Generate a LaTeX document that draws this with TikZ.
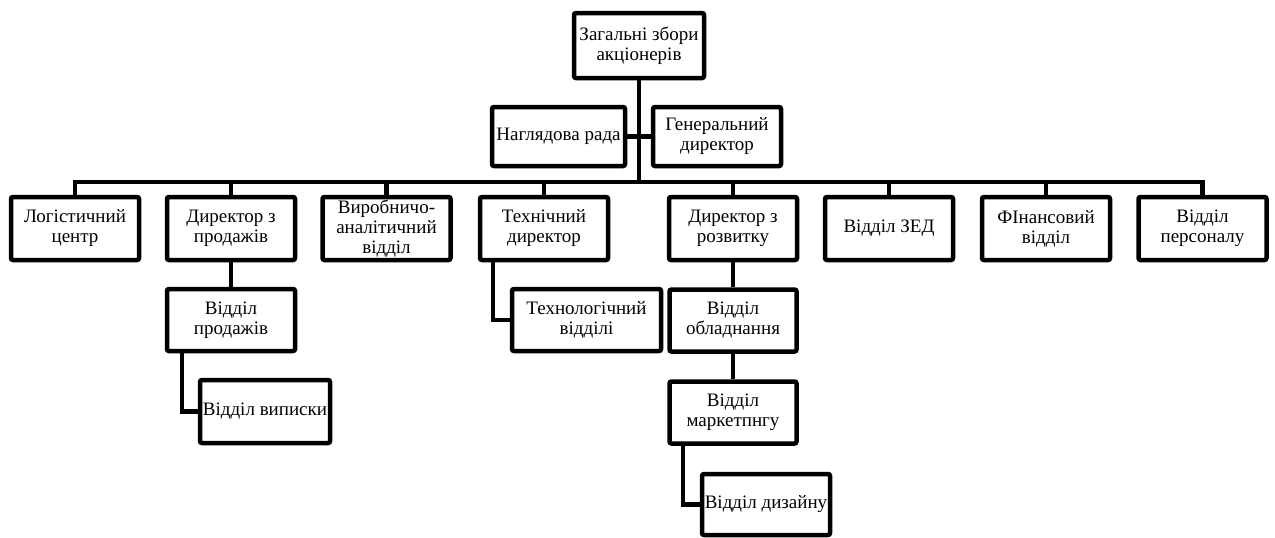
\documentclass[tikz,border=0pt]{standalone}
\usepackage{fontspec}
\setmainfont{Liberation Serif}
\begin{document}
\begin{tikzpicture}[x=1pt,y=-1pt,
  box/.style={draw, line width=4.5pt, rounded corners=2pt, minimum width=128pt, minimum height=63pt, inner sep=0pt, align=center, font=\fontsize{19}{20}\selectfont},
  link/.style={line width=4.5pt}]
\useasboundingbox (0,0) rectangle (1275,538);
\node[box, minimum width=130pt, minimum height=65pt] (top) at (639,45.5) {Загальні збори\\акціонерів};
\node[box, minimum width=133pt, minimum height=59pt] (nagl) at (558.5,136.5) {Наглядова рада};
\node[box, minimum width=128pt, minimum height=59pt] (gen) at (717,136.5) {Генеральний\\директор};
\coordinate (bus) at (639,182);
% level 2
\node[box] (log) at (75,228.5) {Логістичний\\центр};
\node[box] (dprod) at (231,228.5) {Директор з\\продажів};
\node[box] (vyr) at (386.5,228.5) {Виробничо-\\аналітичний\\відділ};
\node[box] (tech) at (544,228.5) {Технічний\\директор};
\node[box] (drozv) at (733,228.5) {Директор з\\розвитку};
\node[box] (zed) at (889,228.5) {Відділ ЗЕД};
\node[box] (fin) at (1046,228.5) {ФІнансовий\\відділ};
\node[box] (pers) at (1202.5,228.5) {Відділ\\персоналу};
% level 3
\node[box, minimum height=62pt] (vprod) at (231,320) {Відділ\\продажів};
\node[box, minimum width=130pt] (vvyp) at (265,411.5) {Відділ виписки};
\node[box, minimum width=149pt, minimum height=62pt] (techv) at (586.5,320) {Технологічний\\відділі};
\node[box, minimum width=127pt, minimum height=62pt] (obl) at (733,320.5) {Відділ\\обладнання};
\node[box, minimum width=127pt, minimum height=62pt] (mark) at (733,412.5) {Відділ\\маркетпнгу};
\node[box, minimum width=128pt, minimum height=61pt] (dyz) at (766,504.5) {Відділ дизайну};
% connectors
\draw[link] (top) -- (bus);
\draw[link] (nagl.east) -- (gen.west);
\draw[link] (log.north) |- (bus) -| (pers.north);
\foreach \n in {dprod,vyr,tech,drozv,zed,fin} \draw[link] (\n.north) -- (\n.north |- bus);
\draw[link] (dprod) -- (vprod);
\draw[link] ([xshift=-49pt]vprod.south) |- (vvyp.west);
\draw[link] ([xshift=-51pt]tech.south) |- (techv.west);
\draw[link] (drozv) -- (obl);
\draw[link] (obl) -- (mark);
\draw[link] ([xshift=-50pt]mark.south) |- (dyz.west);
\end{tikzpicture}
\end{document}
